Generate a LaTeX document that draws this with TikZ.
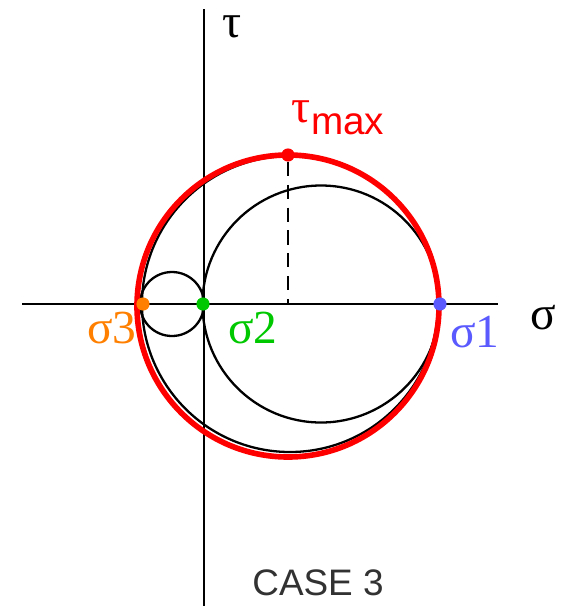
\documentclass[tikz,border=0pt]{standalone}
\usepackage{fontspec}
\setmainfont{Liberation Serif}
\newfontfamily\labelsans{Liberation Sans}
\usetikzlibrary{positioning}
\definecolor{maxred}{RGB}{255,0,0}
\definecolor{sigorange}{RGB}{255,128,0}
\definecolor{siggreen}{RGB}{0,200,0}
\definecolor{sigblue}{RGB}{90,90,255}
\definecolor{casegray}{RGB}{50,50,50}

\begin{document}
\begin{tikzpicture}[
    x=0.02cm, y=-0.02cm,
    axis/.style={line width=1.3pt},
    mohr/.style={line width=1.3pt},
    dot/.style={circle, fill=#1, inner sep=0pt, minimum size=7.5pt},
    lbl/.style={font=\fontsize{27}{27}\selectfont, inner sep=0pt}
]
\useasboundingbox (0,0) rectangle (562,606);

% axes
\coordinate (sl) at (22,304);
\coordinate (sr) at (498,304);
\coordinate (tt) at (204,9);
\coordinate (tb) at (204,606);
\draw[axis] (sl) -- (sr);
\draw[axis] (tt) -- (tb);

% Mohr circles
\draw[mohr] (172,304) circle (32);
\draw[mohr] (321,304) circle (118.5);
\draw[mohr] (290,304) circle (148);
\draw[maxred, line width=3.2pt] (288,306) circle (151);

% points
\coordinate (ctr) at (288,304);
\node[dot=sigorange] (s3) at (143,304) {};
\node[dot=siggreen] (s2) at (203,304) {};
\node[dot=sigblue] (s1) at (440,304) {};
\node[dot=maxred] (tm) at (288,155) {};
\draw[mohr, dashed, dash pattern=on 8pt off 5pt] (tm) -- (ctr);

% labels
\node[lbl, sigorange] (s3lbl) at (112,328) {σ3};
\node[lbl, siggreen] (s2lbl) at (253,328) {σ2};
\node[lbl, sigblue] (s1lbl) at (475,332) {σ1};
\node[lbl] (slbl) at (543,318) {σ};
\node[lbl, anchor=base] (tlbl) at (232,37) {τ};
\node[lbl, maxred] (tmlbl) at (338,118) {τ\raisebox{-0.25em}{\labelsans\fontsize{22}{22}\selectfont max}};
\node[font=\labelsans\fontsize{21}{21}\selectfont, casegray] (case) at (318,583) {CASE 3};
\end{tikzpicture}
\end{document}
